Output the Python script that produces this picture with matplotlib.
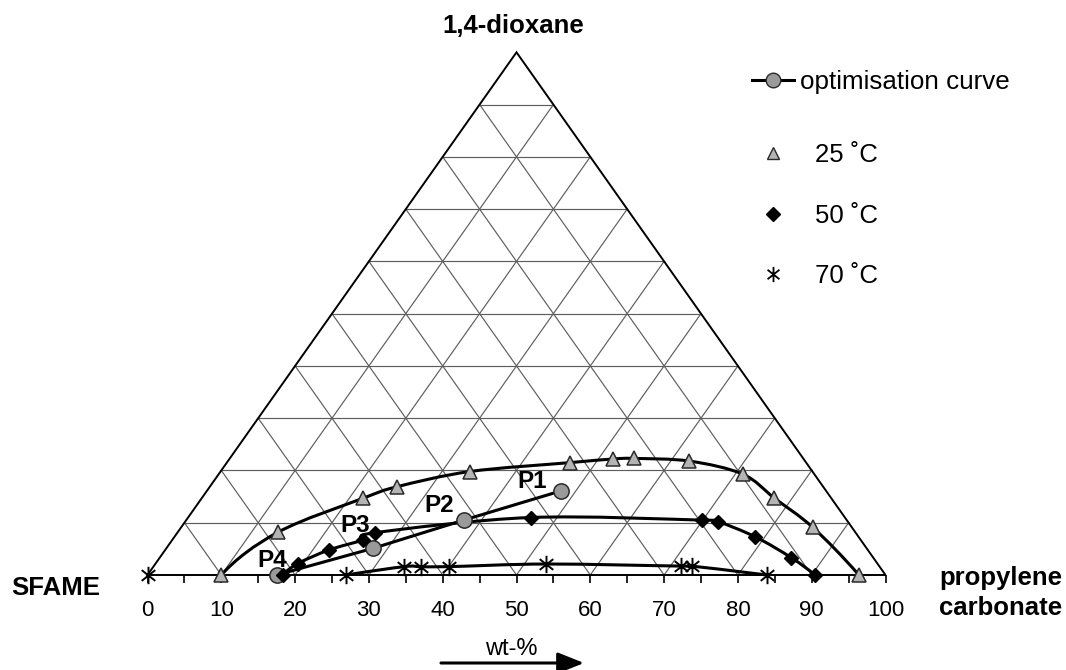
import numpy as np
import matplotlib
matplotlib.use("Agg")
import matplotlib.pyplot as plt
from matplotlib.path import Path
from matplotlib.patches import PathPatch
from matplotlib.lines import Line2D

plt.rcParams['font.family'] = ['Liberation Sans', 'DejaVu Sans']

# ---- data: wt-% propylene carbonate (PC) and 1,4-dioxane (DX); SFAME = 100 - PC - DX
pc_25 = [10.0, 13.6, 21.9, 25.4, 33.8, 46.5, 52.0, 54.8, 62.5, 71.0, 77.6, 85.6, 96.4]
dx_25 = [0.0, 8.2, 14.7, 16.9, 19.8, 21.5, 22.2, 22.3, 21.8, 19.3, 14.7, 9.1, 0.0]
pc_50 = [18.4, 19.3, 22.2, 25.8, 26.8, 46.4, 69.9, 72.2, 78.7, 85.6, 90.4]
dx_50 = [0.0, 2.2, 4.8, 6.7, 8.1, 11.0, 10.5, 10.2, 7.3, 3.3, 0.0]
pc_70 = [0.0, 26.9, 34.0, 36.2, 40.1, 53.0, 71.5, 72.9, 83.9]
dx_70 = [0.0, 0.0, 1.6, 1.6, 1.6, 2.1, 1.7, 1.7, 0.0]
pc_opt = [17.5, 28.0, 37.6, 48.0]
dx_opt = [0.0, 5.1, 10.5, 16.1]
opt_labels = ['P4', 'P3', 'P2', 'P1']
opt_label_offsets = [(-3.2, 6.1), (-13, 11.9), (-18, 6.1), (-20.9, 1.8)]
tick_values = list(range(0, 101, 10))
minor_tick_values = list(range(0, 101, 5))
grid_values = list(range(10, 100, 10))

W, H = 1066, 670


def fx(px):
    return px / W


def fy(py):
    return 1 - py / H


def to_xy(pc, dx):
    pc = np.asarray(pc, float)
    dx = np.asarray(dx, float)
    return pc + dx / 2.0, dx


def smooth_path(x, y):
    """Smoothed line (cubic Bezier through every data point)."""
    pts = np.column_stack([x, y])
    n = len(pts)
    tang = np.zeros_like(pts)
    for i in range(1, n - 1):
        tang[i] = (pts[i + 1] - pts[i - 1]) / 2.0
    tang[0] = 2 * (pts[1] - pts[0]) - tang[1]
    tang[-1] = 2 * (pts[-1] - pts[-2]) - tang[-2]
    verts = [pts[0]]
    codes = [Path.MOVETO]
    for i in range(n - 1):
        verts += [pts[i] + tang[i] / 3.0, pts[i + 1] - tang[i + 1] / 3.0, pts[i + 1]]
        codes += [Path.CURVE4] * 3
    return Path(verts, codes)


fig = plt.figure(figsize=(W / 100, H / 100), dpi=100)
ax = fig.add_axes([fx(147.5), fy(575), fx(885.5) - fx(147.5), fy(52.3) - fy(575)])
ax.set_xlim(0, 100)
ax.set_ylim(0, 100)
ax.axis('off')

# grid
gcol = '#5e5e5e'
for k in grid_values:
    ax.plot([k / 2, 100 - k / 2], [k, k], color=gcol, lw=0.85, zorder=1)
    x0, y0 = to_xy([k, k], [0, 100 - k])
    ax.plot(x0, y0, color=gcol, lw=0.85, zorder=1)
    x1, y1 = to_xy([k, 0], [0, k])
    ax.plot(x1, y1, color=gcol, lw=0.85, zorder=1)

# outer triangle
tx, ty = to_xy([0, 100, 0, 0], [0, 0, 100, 0])
ax.plot(tx, ty, color='black', lw=1.4, zorder=2, solid_joinstyle='miter', clip_on=False)

# ticks
ax.plot(minor_tick_values, np.zeros(len(minor_tick_values)), ls='none', marker=3,
        ms=6, mew=1.2, color='black', clip_on=False, zorder=2)
for t in tick_values:
    ax.annotate(str(t), (t, 0), xytext=(0, -29.5), textcoords='offset points',
                ha='center', va='baseline', fontsize=16)

# smoothed curves
for pcs, dxs, start in [(pc_25, dx_25, 0), (pc_50, dx_50, 0), (pc_70, dx_70, 1)]:
    x, y = to_xy(pcs[start:], dxs[start:])
    ax.add_patch(PathPatch(smooth_path(x, y), fill=False, lw=2.2, ec='black',
                           zorder=3, clip_on=False))

# optimisation curve
xo, yo = to_xy(pc_opt, dx_opt)
ax.plot(xo, yo, color='black', lw=2.2, zorder=4, clip_on=False)
ax.plot(xo, yo, ls='none', marker='o', ms=11, mfc='#9a9a9a', mec='#2a2a2a', mew=1.1,
        zorder=5, clip_on=False)
for lab, (ox, oy), xx, yy in zip(opt_labels, opt_label_offsets, xo, yo):
    ax.annotate(lab, (xx, yy), xytext=(ox, oy), textcoords='offset points',
                ha='center', va='baseline', fontsize=17.5, fontweight='bold', zorder=6)

# markers
star = Path([(0, -1), (0, 1), (-0.78, -0.62), (0.78, 0.62), (-0.78, 0.62), (0.78, -0.62)],
            [Path.MOVETO, Path.LINETO] * 3)
x25, y25 = to_xy(pc_25, dx_25)
ax.plot(x25, y25, ls='none', marker='^', ms=10, mfc='#b4b4b4', mec='#2a2a2a', mew=1.1,
        zorder=6, clip_on=False)
x50, y50 = to_xy(pc_50, dx_50)
ax.plot(x50, y50, ls='none', marker='D', ms=7.5, mfc='black', mec='black', zorder=6,
        clip_on=False)
x70, y70 = to_xy(pc_70, dx_70)
ax.plot(x70, y70, ls='none', marker=star, ms=12.5, mec='black', mew=1.4, zorder=6,
        clip_on=False)

# axis / component labels
fig.text(fx(513.5), fy(33), '1,4-dioxane', ha='center', va='baseline', fontsize=18.5,
         fontweight='bold')
fig.text(fx(11), fy(595), 'SFAME', ha='left', va='baseline', fontsize=18.5,
         fontweight='bold')
fig.text(fx(939), fy(585), 'propylene', ha='left', va='baseline', fontsize=18.5,
         fontweight='bold')
fig.text(fx(939), fy(615), 'carbonate', ha='left', va='baseline', fontsize=18.5,
         fontweight='bold')
fig.text(fx(511), fy(655), 'wt-%', ha='center', va='baseline', fontsize=17)
ax.annotate('', xy=(fx(584), fy(663)), xytext=(fx(441), fy(663)),
            xycoords='figure fraction', textcoords='figure fraction',
            arrowprops=dict(arrowstyle='-|>,head_length=0.8,head_width=0.32',
                            lw=2.2, color='black', shrinkA=0, shrinkB=0,
                            mutation_scale=20))

# legends
h_opt = Line2D([], [], color='black', lw=2.2, marker='o', ms=10.5, mfc='#9a9a9a',
               mec='#2a2a2a')
leg1 = fig.legend([h_opt], ['optimisation curve'], loc='center left',
                  bbox_to_anchor=(fx(752), fy(82)), frameon=False, fontsize=18.7,
                  handlelength=1.62, handletextpad=0.24, borderpad=0, borderaxespad=0)
h25 = Line2D([], [], ls='none', marker='^', ms=9, mfc='#b4b4b4', mec='#2a2a2a')
h50 = Line2D([], [], ls='none', marker='D', ms=7, mfc='black', mec='black')
h70 = Line2D([], [], ls='none', marker=star, ms=11, mec='black', mew=1.3)
leg2 = fig.legend([h25, h50, h70], ['25 ˚C', '50 ˚C', '70 ˚C'], loc='center left',
                  bbox_to_anchor=(fx(752), fy(215.7)), frameon=False, fontsize=18.5,
                  handlelength=1.62, handletextpad=0.82, borderpad=0, borderaxespad=0,
                  labelspacing=1.42)

fig.savefig('out.png', dpi=100)
